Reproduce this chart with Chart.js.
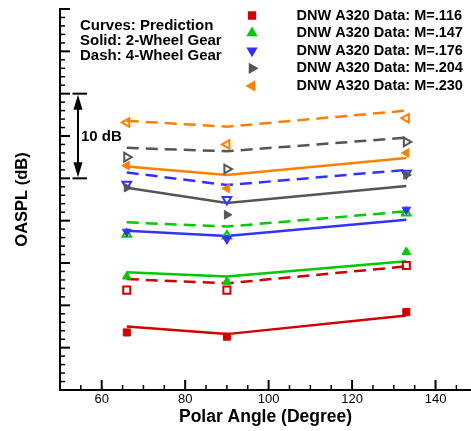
<!DOCTYPE html>
<html>
<head>
<meta charset="utf-8">
<script src="https://cdn.jsdelivr.net/npm/chart.js@4/dist/chart.umd.min.js"></script>
<style>
  html, body { margin: 0; padding: 0; background: #fff; }
  canvas { display: block; }
</style>
</head>
<body>
<canvas id="chart" width="471" height="431"></canvas>
<script>
// polar angles of the microphones (degree)
const polarAngle = [66, 90, 133];

// tick labels on the x axis
const xTickLabels = [60, 80, 100, 120, 140];

// Mach numbers shown in the legend
const machLabels = ['M=.116', 'M=.147', 'M=.176', 'M=.204', 'M=.230'];

// DNW A320 data, 2-wheel gear (filled markers), OASPL dB
const dnw2w116 = [81.8, 81.3, 84.2];
const dnw2w147 = [88.4, 87.8, 91.3];
const dnw2w176 = [93.7, 92.8, 96.3];
const dnw2w204 = [98.9, 95.7, 100.4];
const dnw2w230 = [101.5, 98.8, 103.0];

// DNW data, 4-wheel gear (open markers)
const dnw4w116 = [86.8, 86.8, 89.7];
const dnw4w147 = [93.4, 93.2, 95.9];
const dnw4w176 = [99.3, 97.5, 100.6];
const dnw4w204 = [102.5, 101.1, 104.3];
const dnw4w230 = [106.6, 104.0, 107.1];

// prediction, 2-wheel gear (solid)
const pred2w116 = [82.5, 81.6, 83.8];
const pred2w147 = [88.9, 88.4, 90.2];
const pred2w176 = [93.8, 93.2, 95.1];
const pred2w204 = [98.9, 97.1, 99.1];
const pred2w230 = [101.4, 100.4, 102.4];

// prediction, 4-wheel gear (dash)
const pred4w116 = [88.1, 87.6, 89.6];
const pred4w147 = [94.8, 94.3, 96.1];
const pred4w176 = [100.7, 99.2, 101.0];
const pred4w204 = [103.6, 103.2, 104.8];
const pred4w230 = [106.8, 106.1, 108.0];

const FONT = '"Liberation Sans", Arial, Helvetica, sans-serif';

const series = [
  { mach: machLabels[0], color: '#d00000', style: 'rect', rot: 0, d2: dnw2w116, d4: dnw4w116, p2: pred2w116, p4: pred4w116 },
  { mach: machLabels[1], color: '#00c800', style: 'triangle', rot: 0, d2: dnw2w147, d4: dnw4w147, p2: pred2w147, p4: pred4w147 },
  { mach: machLabels[2], color: '#3232ff', style: 'triangle', rot: 180, d2: dnw2w176, d4: dnw4w176, p2: pred2w176, p4: pred4w176 },
  { mach: machLabels[3], color: '#555555', style: 'triangle', rot: 90, d2: dnw2w204, d4: dnw4w204, p2: pred2w204, p4: pred4w204 },
  { mach: machLabels[4], color: '#ff8000', style: 'triangle', rot: -90, d2: dnw2w230, d4: dnw4w230, p2: pred2w230, p4: pred4w230 },
];

function pts(vals) {
  return polarAngle.map((a, i) => ({ x: a, y: vals[i] }));
}

// filled markers first so they end on top
const datasets = [];
series.forEach(s => {
  datasets.push({
    label: 'DNW A320 Data: ' + s.mach,
    data: pts(s.d2),
    showLine: false,
    pointStyle: s.style,
    pointRotation: s.rot,
    pointRadius: 5,
    pointBorderWidth: 1,
    pointBackgroundColor: s.color,
    pointBorderColor: s.color,
    legendMarker: true,
  });
});
series.forEach(s => {
  datasets.push({
    label: '4-wheel ' + s.mach,
    data: pts(s.d4),
    showLine: false,
    pointStyle: s.style,
    pointRotation: s.rot,
    pointRadius: 5,
    pointBorderWidth: 2,
    pointBackgroundColor: 'rgba(255,255,255,0)',
    pointBorderColor: s.color,
  });
});
series.forEach(s => {
  datasets.push({
    label: 'pred 2w ' + s.mach,
    data: pts(s.p2),
    showLine: true,
    borderColor: s.color,
    borderWidth: 2.5,
    pointRadius: 0,
    tension: 0,
  });
  datasets.push({
    label: 'pred 4w ' + s.mach,
    data: pts(s.p4),
    showLine: true,
    borderColor: s.color,
    borderWidth: 2.5,
    borderDash: [12, 7],
    pointRadius: 0,
    tension: 0,
  });
});

function line(ctx, x1, y1, x2, y2) {
  ctx.beginPath();
  ctx.moveTo(x1, y1);
  ctx.lineTo(x2, y2);
  ctx.stroke();
}

// inward ticks, 10 dB bracket, notes and legend
const overlay = {
  id: 'overlay',
  afterDraw(chart) {
    const { ctx, chartArea: a, scales: { x, y } } = chart;
    ctx.save();
    ctx.strokeStyle = '#000';
    ctx.fillStyle = '#000';

    for (let v = 55; v <= 145; v += 5) {
      const major = v % 20 === 0;
      const px = x.getPixelForValue(v);
      ctx.lineWidth = major ? 2 : 1.5;
      line(ctx, px, a.bottom, px, a.bottom - (major ? 10 : 5));
    }
    for (let v = 76; v <= 120; v++) {
      const major = v % 5 === 0;
      const py = y.getPixelForValue(v);
      ctx.lineWidth = major ? 2 : 1.5;
      line(ctx, a.left, py, a.left + (major ? 10 : 5), py);
    }

    // 10 dB bracket
    const bx = 78;
    const top = y.getPixelForValue(110);
    const bot = y.getPixelForValue(100);
    ctx.lineWidth = 2;
    line(ctx, 72.5, top, 87, top);
    line(ctx, 72.5, bot, 87, bot);
    line(ctx, bx, top + 4, bx, bot - 4);
    ctx.beginPath();
    ctx.moveTo(bx, top + 1);
    ctx.lineTo(bx - 4.5, top + 16);
    ctx.lineTo(bx + 4.5, top + 16);
    ctx.closePath();
    ctx.fill();
    ctx.beginPath();
    ctx.moveTo(bx, bot - 1);
    ctx.lineTo(bx - 4.5, bot - 16);
    ctx.lineTo(bx + 4.5, bot - 16);
    ctx.closePath();
    ctx.fill();

    ctx.textBaseline = 'middle';
    ctx.textAlign = 'left';
    ctx.font = 'bold 15px ' + FONT;
    ctx.fillText('10 dB', 81, (top + bot) / 2 + 1);

    ctx.fillText('Curves: Prediction', 80, 26);
    ctx.fillText('Solid: 2-Wheel Gear', 80, 41);
    ctx.fillText('Dash: 4-Wheel Gear', 80, 56);

    // legend of the data markers
    ctx.font = 'bold 14.5px ' + FONT;
    chart.data.datasets.filter(d => d.legendMarker).forEach((d, i) => {
      const ly = 15.5 + i * 17.6;
      ctx.fillStyle = d.pointBackgroundColor;
      ctx.strokeStyle = d.pointBorderColor;
      Chart.helpers.drawPoint(ctx, {
        pointStyle: d.pointStyle,
        rotation: d.pointRotation,
        radius: 4.5,
        borderWidth: 1,
      }, 252, ly);
      ctx.fillStyle = '#000';
      ctx.fillText(d.label, 296.5, ly);
    });
    ctx.restore();
  }
};

new Chart(document.getElementById('chart'), {
  type: 'scatter',
  data: { datasets },
  options: {
    responsive: false,
    animation: false,
    devicePixelRatio: 1,
    layout: { autoPadding: false, padding: { top: 9, right: 0, bottom: 0, left: 0 } },
    plugins: {
      legend: { display: false },
      tooltip: { enabled: false },
    },
    scales: {
      x: {
        type: 'linear',
        min: 50,
        max: 148.5,
        afterBuildTicks: s => { s.ticks = xTickLabels.map(v => ({ value: v })); },
        afterFit: s => { s.height = 41; s.paddingLeft = 0; s.paddingRight = 0; },
        grid: { display: false, drawTicks: false, tickLength: 0 },
        border: { display: true, color: '#000', width: 2 },
        ticks: { color: '#000', padding: 2, maxRotation: 0, autoSkip: false, font: { family: FONT, size: 13 } },
        title: {
          display: true,
          text: 'Polar Angle (Degree)',
          color: '#000',
          font: { family: FONT, size: 17.5, weight: 'bold' },
          padding: { top: 0, bottom: 3 },
        },
      },
      y: {
        min: 75,
        max: 120,
        afterFit: s => { s.width = 60; s.paddingTop = 0; s.paddingBottom = 0; },
        grid: { display: false, drawTicks: false, tickLength: 0 },
        border: { display: true, color: '#000', width: 2 },
        ticks: { display: false },
        title: {
          display: true,
          text: 'OASPL (dB)',
          color: '#000',
          font: { family: FONT, size: 16.5, weight: 'bold' },
          padding: { top: 13, bottom: 0 },
        },
      },
    },
  },
  plugins: [overlay],
});
</script>
</body>
</html>
